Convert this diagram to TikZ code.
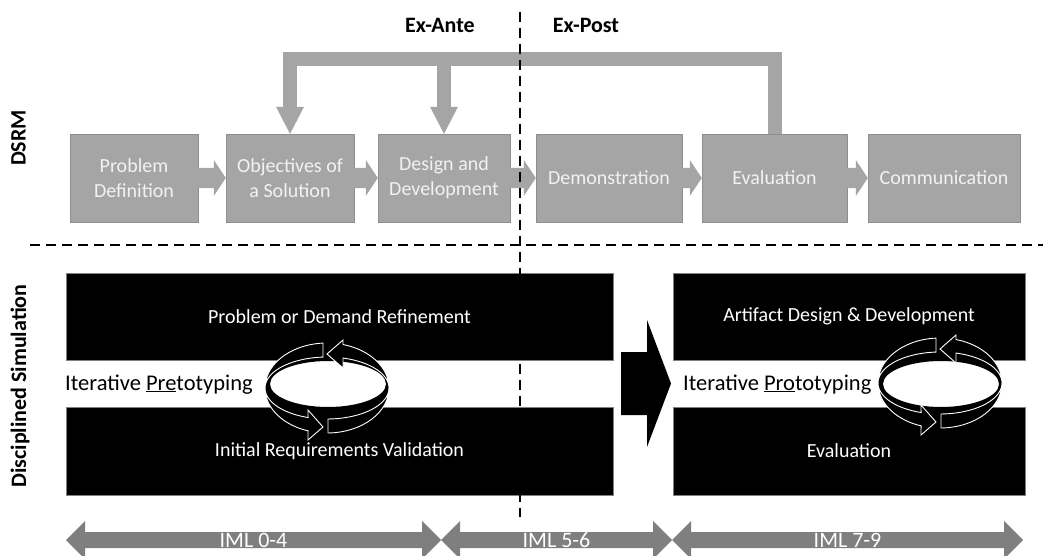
\documentclass[tikz,border=0pt]{standalone}
\usepackage{fontspec}
\setmainfont{Carlito}
\usetikzlibrary{calc}

\definecolor{dsrmgray}{HTML}{A5A5A5}
\definecolor{dsrmedge}{HTML}{8E8E8E}
\definecolor{dsrmtext}{HTML}{F2F2F2}
\definecolor{imlgray}{HTML}{7F7F7F}

\begin{document}
\begin{tikzpicture}[x=1pt,y=-1pt,
  phase/.style={draw=dsrmedge,fill=dsrmgray,text=dsrmtext,minimum height=88pt,inner sep=0pt,align=center,font=\fontsize{20}{25}\selectfont},
  stage/.style={draw=gray,line width=1pt,fill=black,text=white,inner sep=0pt,font=\fontsize{20}{24}\selectfont},
  lanelabel/.style={inner sep=0pt,font=\fontsize{22}{26}\selectfont\bfseries},
  iterlabel/.style={anchor=base west,inner sep=0pt,font=\fontsize{22.5}{27}\selectfont},
  flow/.style={fill=dsrmgray},
  feedback/.style={draw=dsrmgray,line width=14pt,line join=miter},
  iml/.style={fill=imlgray},
  imltext/.style={inner sep=0pt,text=white,font=\fontsize{22}{26}\selectfont},
  cyc/.style={fill=black,draw=white,line width=0.9pt},
  divider/.style={line width=2pt,dash pattern=on 10pt off 6pt}]
\fill[white] (0,0) rectangle (1043,556);
\useasboundingbox (0,0) rectangle (1043,556);

% DSRM phases
\node[phase,minimum width=128pt] (prob) at (134,178) {Problem\\Definition};
\node[phase,minimum width=128pt] (obj) at (290,178) {Objectives of\\a Solution};
\node[phase,minimum width=132pt] (des) at (444,178) {Design and\\Development};
\node[phase,minimum width=146pt] (demo) at (609,178) {Demonstration};
\node[phase,minimum width=145pt] (eval) at (774.5,178) {Evaluation};
\node[phase,minimum width=152pt] (comm) at (944,178) {Communication};

\foreach \a/\b in {prob/obj,obj/des,des/demo,demo/eval,eval/comm}{
  \fill[flow] ($(\a.east)+(0,-10)$) -- ($(\b.west)+(-12,-10)$) -- ($(\b.west)+(-12,-18)$)
    -- (\b.west) -- ($(\b.west)+(-12,18)$) -- ($(\b.west)+(-12,10)$) -- ($(\a.east)+(0,10)$) -- cycle;
}

% iteration back from evaluation
\coordinate (bar) at (0,59.5);
\draw[feedback] (eval.north) -- (eval.north |- bar) -- (obj.north |- bar) -- ($(obj.north)+(0,-26)$);
\draw[feedback] (des.north |- bar) -- ($(des.north)+(0,-26)$);
\fill[flow] (obj.north) -- ++(-14,-27) -- ++(28,0) -- cycle;
\fill[flow] (des.north) -- ++(-14,-27) -- ++(28,0) -- cycle;

\node[lanelabel] (exante) at (440,25) {Ex-Ante};
\node[lanelabel] (expost) at (586,25) {Ex-Post};
\node[lanelabel,rotate=90] (dsrm) at (18.5,138) {DSRM};
\node[lanelabel,rotate=90] (dissim) at (20,386) {Disciplined Simulation};

% disciplined simulation
\node[stage,minimum width=547pt,minimum height=87pt] (refine) at (339.5,316.5) {Problem or Demand Refinement};
\node[stage,minimum width=547pt,minimum height=88pt] (valid) at (339.5,451) {Initial Requirements Validation};
\node[stage,minimum width=352pt,minimum height=87pt] (artifact) at (849,316.5) {Artifact Design \& Development};
\node[stage,minimum width=352pt,minimum height=88pt] (review) at (849,451) {Evaluation};

\fill (621,352) -- (647,352) -- (647,320) -- (671,383.5) -- (647,447) -- (647,415) -- (621,415) -- cycle;

\node[iterlabel] (pretyp) at (65,390) {Iterative \underline{Pre}totyping};
\node[iterlabel] (protyp) at (683,390) {Iterative \underline{Pro}totyping};

\foreach \cx/\cy/\hy in {327/388/-4, 940/383/1}{
  \begin{scope}[shift={(\cx,\cy)}]
    \fill[black,even odd rule] (0,0) ellipse [x radius=62, y radius=31] (1,\hy) ellipse [x radius=58, y radius=23];
    \path[cyc] (89.1:62 and 45) arc[start angle=89.1,end angle=-75.04,x radius=62,y radius=45]
      -- (16,-48) -- (0,-34) -- (16,-20)
      -- (-75.04:62 and 31) arc[start angle=-75.04,end angle=89.1,x radius=62,y radius=31] -- cycle;
    \path[cyc] (266.3:62 and 45) arc[start angle=266.3,end angle=107.8,x radius=62,y radius=45]
      -- (-19,52) -- (-4,39) -- (-19,22)
      -- (107.8:62 and 31) arc[start angle=107.8,end angle=266.3,x radius=62,y radius=31] -- cycle;
  \end{scope}
}

% maturity levels
\foreach \xa/\xb/\lab [count=\i] in {66/441/IML 0-4, 441/672/IML 5-6, 672/1023/IML 7-9}{
  \fill[iml] (\xa,540) -- (\xa+19,521) -- (\xa+19,532) -- (\xb-19,532) -- (\xb-19,521) -- (\xb,540)
    -- (\xb-19,559) -- (\xb-19,548) -- (\xa+19,548) -- (\xa+19,559) -- cycle;
  \node[imltext] (iml\i) at ({(\xa+\xb)/2},540) {\lab};
}

\draw[divider] (30,245) -- (1043,245);
\draw[divider] (520,12) -- (520,517);
\end{tikzpicture}
\end{document}
